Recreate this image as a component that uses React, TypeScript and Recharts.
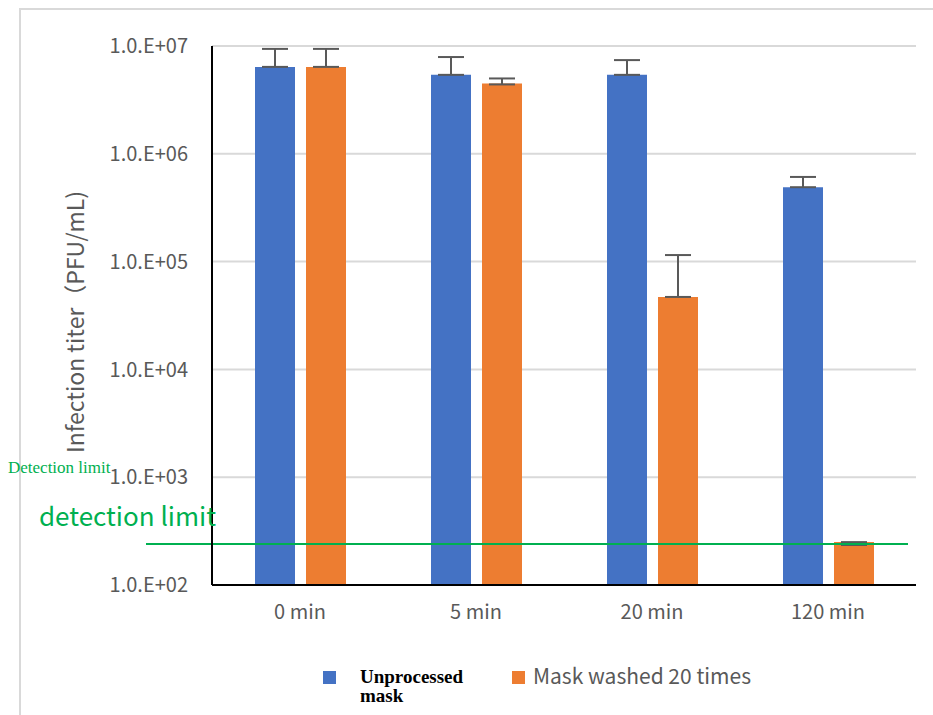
import { BarChart, Bar, XAxis, YAxis, CartesianGrid, ErrorBar, ReferenceLine } from 'recharts';

const categories = ['0 min', '5 min', '20 min', '120 min'];
const unprocessed = [6.4e6, 5.4e6, 5.4e6, 4.9e5];
const unprocessedErr = [[0, 3.0e6], [0, 2.5e6], [0, 2.0e6], [0, 1.2e5]];
const washed = [6.4e6, 4.5e6, 4.7e4, 250];
const washedErr = [[0, 3.0e6], [0.1e6, 0.5e6], [0, 6.8e4], [15, 0]];
const yTicks = [1e2, 1e3, 1e4, 1e5, 1e6, 1e7];
const yTickLabels = ['1.0.E+02', '1.0.E+03', '1.0.E+04', '1.0.E+05', '1.0.E+06', '1.0.E+07'];
const DETECTION_LIMIT = 240;

const data = categories.map((name, i) => ({
  name,
  unprocessed: unprocessed[i],
  unprocessedErr: unprocessedErr[i],
  washed: washed[i],
  washedErr: washedErr[i]
}));

const GRAY = '#595959';
const GREEN = '#00B050';
const JP = '"Noto Sans CJK JP", "Noto Sans", sans-serif';

// detection limit line runs a bit past the left axis like in the original sheet
const DetectionLine = (props: any) => {
  const { x1, y1, x2, y2 } = props;
  return <line x1={x1 - 66} y1={y1} x2={x2 - 8} y2={y2} stroke={GREEN} strokeWidth={2} />;
};

export default function App() {
  return (
    <div style={{ position: 'absolute', left: 0, top: 0, width: 933, height: 715, overflow: 'hidden', background: '#fff' }}>
      <div style={{ position: 'absolute', left: 19, top: 8, width: 1000, height: 1000, border: '2px solid #d9d9d9' }} />
      <BarChart
        width={933}
        height={715}
        data={data}
        margin={{ top: 46, right: 17, bottom: 100, left: 0 }}
        barSize={40}
        barGap={11}
        style={{ position: 'absolute', left: 0, top: 0 }}
      >
        <CartesianGrid vertical={false} stroke="#d9d9d9" strokeWidth={2} />
        <XAxis
          dataKey="name"
          axisLine={{ stroke: '#000', strokeWidth: 2 }}
          tickLine={false}
          tickSize={6}
          tickMargin={14}
          tick={{ fill: GRAY, fontSize: 20, fontFamily: JP }}
        />
        <YAxis
          scale="log"
          domain={[100, 1e7]}
          ticks={yTicks}
          allowDataOverflow
          width={212}
          axisLine={{ stroke: '#000', strokeWidth: 2 }}
          tickLine={false}
          tickSize={6}
          tickMargin={18}
          tick={{ fill: GRAY, fontSize: 20, fontFamily: JP }}
          tickFormatter={(v: number) => yTickLabels[yTicks.indexOf(v)] ?? ''}
        />
        <Bar dataKey="unprocessed" fill="#4472C4" isAnimationActive={false}>
          <ErrorBar dataKey="unprocessedErr" width={13} stroke={GRAY} strokeWidth={2} />
        </Bar>
        <Bar dataKey="washed" fill="#ED7D31" isAnimationActive={false}>
          <ErrorBar dataKey="washedErr" width={13} stroke={GRAY} strokeWidth={2} />
        </Bar>
        <ReferenceLine y={DETECTION_LIMIT} shape={DetectionLine} />
      </BarChart>

      <div
        style={{
          position: 'absolute', left: 74, top: 322, transform: 'translate(-50%, -50%) rotate(-90deg)',
          whiteSpace: 'nowrap', fontFamily: JP, fontSize: 23, color: GRAY
        }}
      >
        Infection titer（PFU/mL)
      </div>
      <div style={{ position: 'absolute', left: 8, top: 458, fontFamily: '"Liberation Serif", serif', fontSize: 17, color: GREEN, whiteSpace: 'nowrap' }}>
        Detection limit
      </div>
      <div style={{ position: 'absolute', left: 39, top: 498, fontFamily: JP, fontSize: 26, color: GREEN, whiteSpace: 'nowrap', lineHeight: '34px' }}>
        detection limit
      </div>

      <div style={{ position: 'absolute', left: 323, top: 671, width: 13, height: 13, background: '#4472C4' }} />
      <div
        style={{
          position: 'absolute', left: 360, top: 667, fontFamily: '"Liberation Serif", serif', fontWeight: 'bold',
          fontSize: 19, lineHeight: '19px', color: '#000'
        }}
      >
        Unprocessed<br />mask
      </div>
      <div style={{ position: 'absolute', left: 512, top: 671, width: 13, height: 13, background: '#ED7D31' }} />
      <div style={{ position: 'absolute', left: 533, top: 661, fontFamily: JP, fontSize: 21, color: GRAY, whiteSpace: 'nowrap', lineHeight: '28px' }}>
        Mask washed 20 times
      </div>
    </div>
  );
}
